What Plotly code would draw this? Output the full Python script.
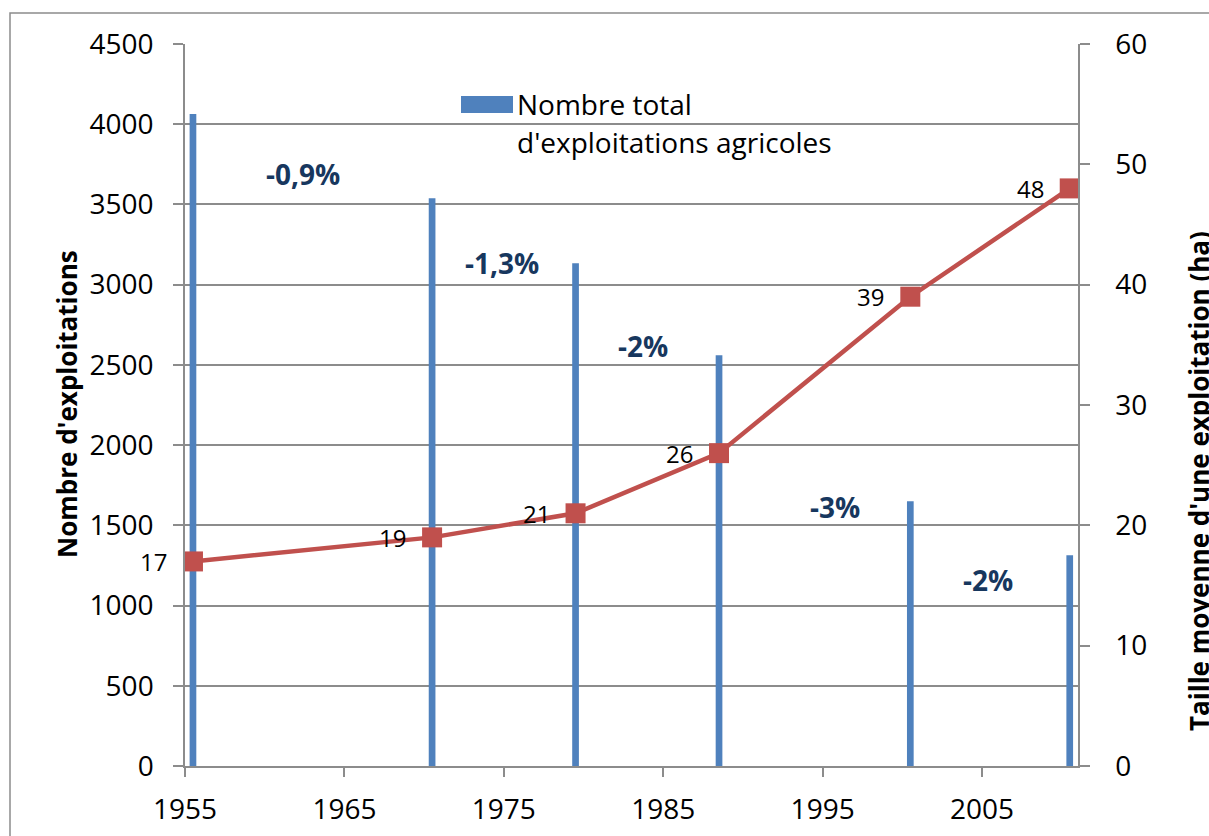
import datetime
import plotly.graph_objects as go

# --- data ---------------------------------------------------------------
years = [1955, 1970, 1979, 1988, 2000, 2010]
nb_exploitations = [4063, 3539, 3133, 2560, 1650, 1313]
taille_moyenne = [17, 19, 21, 26, 39, 48]

# annual rate of change between two census dates
taux_labels = ["-0,9%", "-1,3%", "-2%", "-3%", "-2%"]
taux_pos_year = [1962.4, 1974.9, 1983.75, 1995.8, 2005.4]
taux_pos_value = [3690, 3135, 2615, 1615, 1160]

legend_label = ["Nombre total", "d'exploitations agricoles"]
left_title = "Nombre d'exploitations"
right_title = "Taille moyenne d'une exploitation (ha)"

# --- styles ---------------------------------------------------------------
BLUE = "#4F81BD"
RED = "#C0504D"
NAVY = "#17375E"
GRID = "#8C8C8C"
FONT = "Open Sans"
TICK_SIZE = 28

W, H = 1209, 836
ML, MR, MT, MB = 185, 131, 44, 70
PW, PH = W - ML - MR, H - MT - MB

YEAR_MS = 365.25 * 24 * 3600 * 1000


def px_x(p):
    return (p - ML) / PW


def px_y(p):
    return (H - MB - p) / PH


def frac_year_to_date(y):
    yr = int(y)
    day = int(round((y - yr) * 365))
    d = datetime.date(yr, 1, 1) + datetime.timedelta(days=day)
    return d.isoformat()


fig = go.Figure()

fig.add_trace(go.Bar(
    x=[str(y) for y in years],
    y=nb_exploitations,
    xperiod="M12",
    xperiodalignment="middle",
    width=0.42 * YEAR_MS,
    marker=dict(color=BLUE, line=dict(width=0)),
    name=" ".join(legend_label),
    showlegend=False,
))

fig.add_trace(go.Scatter(
    x=[str(y) for y in years],
    y=taille_moyenne,
    xperiod="M12",
    xperiodalignment="middle",
    yaxis="y2",
    mode="lines+markers",
    line=dict(color=RED, width=4.5),
    marker=dict(symbol="square", size=20, color=RED),
    name="Taille moyenne",
    showlegend=False,
))

annotations = []

# value labels to the left of each point
for y, v in zip(years, taille_moyenne):
    annotations.append(dict(
        x=f"{y}-07-02", y=v, xref="x", yref="y2",
        text=str(v), showarrow=False,
        xanchor="right", yanchor="middle", xshift=-24,
        font=dict(family=FONT, size=24, color="black"),
    ))

# rate-of-change labels
for t, xy, yv in zip(taux_labels, taux_pos_year, taux_pos_value):
    annotations.append(dict(
        x=frac_year_to_date(xy), y=yv, xref="x", yref="y",
        text=f"<b>{t}</b>", showarrow=False,
        xanchor="center", yanchor="middle",
        font=dict(family=FONT, size=28, color=NAVY),
    ))

# legend text
annotations.append(dict(
    x=px_x(515), y=px_y(104), xref="paper", yref="paper",
    text=legend_label[0], showarrow=False, xanchor="left", yanchor="middle",
    font=dict(family=FONT, size=28, color="black"),
))
annotations.append(dict(
    x=px_x(515), y=px_y(142), xref="paper", yref="paper",
    text=legend_label[1], showarrow=False, xanchor="left", yanchor="middle",
    font=dict(family=FONT, size=28, color="black"),
))

# axis titles
annotations.append(dict(
    x=px_x(67), y=px_y(404), xref="paper", yref="paper",
    text=f"<b>{left_title}</b>", showarrow=False, textangle=-90,
    xanchor="center", yanchor="middle",
    font=dict(family=FONT, size=26, color="black"),
))
annotations.append(dict(
    x=px_x(1199), y=px_y(481), xref="paper", yref="paper",
    text=f"<b>{right_title}</b>", showarrow=False, textangle=-90,
    xanchor="center", yanchor="middle",
    font=dict(family=FONT, size=26, color="black"),
))

shapes = [
    # outer chart frame
    dict(type="rect", xref="paper", yref="paper",
         x0=px_x(10), x1=px_x(1260), y0=px_y(900), y1=px_y(13),
         line=dict(color=GRID, width=1.5), fillcolor="rgba(0,0,0,0)",
         layer="below"),
    # legend swatch
    dict(type="rect", xref="paper", yref="paper",
         x0=px_x(461), x1=px_x(513), y0=px_y(113), y1=px_y(96),
         line=dict(width=0), fillcolor=BLUE),
]

fig.update_layout(
    width=W, height=H,
    margin=dict(l=ML, r=MR, t=MT, b=MB, autoexpand=False),
    paper_bgcolor="white",
    plot_bgcolor="white",
    font=dict(family=FONT, size=TICK_SIZE, color="black"),
    showlegend=False,
    annotations=annotations,
    shapes=shapes,
    xaxis=dict(
        type="date",
        range=["1955-01-01", "2011-01-08"],
        tick0="1955-01-01", dtick="M120", tickformat="%Y",
        showgrid=False, zeroline=False, automargin=False,
        showline=True, linecolor=GRID, linewidth=1.5,
        ticks="outside", ticklen=9, tickwidth=1.5, tickcolor=GRID,
        ticklabelstandoff=9,
        tickfont=dict(family=FONT, size=TICK_SIZE, color="black"),
    ),
    yaxis=dict(
        range=[0, 4500], dtick=500, tick0=0,
        showgrid=True, gridcolor=GRID, gridwidth=1.5,
        zeroline=False, automargin=False,
        showline=True, linecolor=GRID, linewidth=1.5,
        ticks="outside", ticklen=10, tickwidth=1.5, tickcolor=GRID,
        ticklabelstandoff=14,
        tickfont=dict(family=FONT, size=TICK_SIZE, color="black"),
    ),
    yaxis2=dict(
        overlaying="y", side="right",
        range=[0, 60], dtick=10, tick0=0,
        showgrid=False, zeroline=False, automargin=False,
        showline=True, linecolor=GRID, linewidth=1.5,
        ticks="outside", ticklen=10, tickwidth=1.5, tickcolor=GRID,
        ticklabelstandoff=20,
        tickfont=dict(family=FONT, size=TICK_SIZE, color="black"),
    ),
)

fig.write_html("out.html")
